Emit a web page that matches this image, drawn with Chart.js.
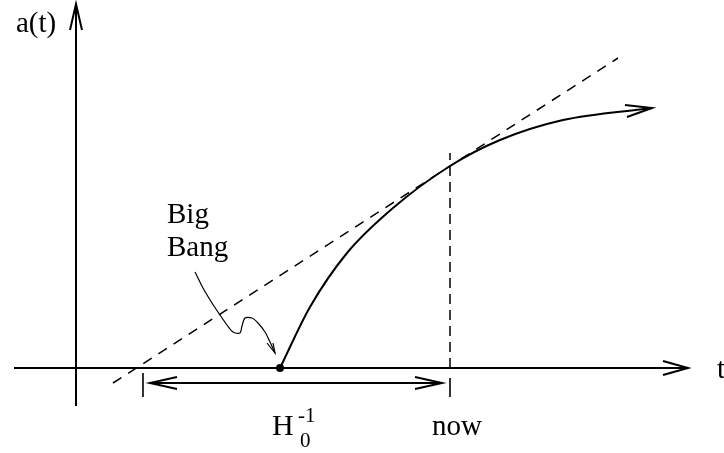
<!DOCTYPE html>
<html>
<head>
<meta charset="utf-8">
<script src="https://cdn.jsdelivr.net/npm/chart.js@4"></script>
<style>
  body { margin: 0; background: #fff; }
  #wrap { width: 724px; height: 453px; position: relative; }
</style>
</head>
<body>
<div id="wrap"><canvas id="myChart"></canvas></div>
<script>
// t = time, a = scale factor (diagram units, origin where the axes cross)
const axisT = [-62, 612];
const axisA = [364, -38];

const curveT = [204, 234, 271, 317, 374, 424, 487, 576];
const curveA = [0, 61, 115, 160, 202, 228, 248, 260];

const tangentT = [37, 542];
const tangentA = [-15, 310];

const bigBangT = 204;
const nowT = 374;
const nowTopA = 215;
const hubbleStartT = 67;
const hubbleA = -15;

const squigT = [119, 127, 136, 144, 151, 157, 164, 166, 169, 176, 182, 189, 194, 199];
const squigA = [96, 80, 65, 53, 43, 36, 35, 42, 50, 50, 45, 36, 26, 15];

const labels = ['a(t)', 't', 'Big', 'Bang', 'H', '0', '-1', 'now'];

const pts = (ts, as) => ts.map((t, i) => ({ x: t, y: as[i] }));

function seg(data, opts) {
    return Object.assign({
        data: data,
        showLine: true,
        borderColor: '#000',
        borderWidth: 2,
        pointRadius: 0,
        fill: false,
        tension: 0
    }, opts || {});
}

const datasets = [
    // axes
    seg([{ x: 0, y: axisA[1] }, { x: 0, y: axisA[0] }]),
    seg([{ x: -6, y: 338 }, { x: 0, y: axisA[0] }, { x: 6, y: 338 }]),
    seg([{ x: axisT[0], y: 0 }, { x: axisT[1], y: 0 }]),
    seg([{ x: axisT[1] - 25, y: 7 }, { x: axisT[1], y: 0 }, { x: axisT[1] - 25, y: -7 }]),
    // tangent line
    seg(pts(tangentT, tangentA), { borderWidth: 1.5, borderDash: [10, 8] }),
    // now marker
    seg([{ x: nowT, y: 0 }, { x: nowT, y: nowTopA }], { borderWidth: 1.5, borderDash: [10, 6] }),
    seg([{ x: nowT, y: -10 }, { x: nowT, y: -29 }], { borderWidth: 1.6 }),
    // 1/H0 span
    seg([{ x: hubbleStartT, y: -5 }, { x: hubbleStartT, y: -29 }], { borderWidth: 1.6 }),
    seg([{ x: hubbleStartT + 7, y: hubbleA }, { x: nowT - 8, y: hubbleA }]),
    seg([{ x: hubbleStartT + 34, y: hubbleA + 6 }, { x: hubbleStartT + 7, y: hubbleA }, { x: hubbleStartT + 34, y: hubbleA - 6 }]),
    seg([{ x: nowT - 35, y: hubbleA + 6 }, { x: nowT - 8, y: hubbleA }, { x: nowT - 35, y: hubbleA - 6 }]),
    // a(t) curve
    seg(pts(curveT, curveA), { cubicInterpolationMode: 'monotone' }),
    seg([{ x: 549, y: 263 }, { x: 576, y: 260 }, { x: 551, y: 251 }]),
    // "Big Bang" pointer
    seg(pts(squigT, squigA), { borderWidth: 1.2, tension: 0.3 }),
    seg([{ x: 191, y: 25 }, { x: 199, y: 15 }, { x: 197, y: 25 }], { borderWidth: 1.2 }),
    // big bang dot
    { data: [{ x: bigBangT, y: 0 }], pointRadius: 4, pointBackgroundColor: '#000', pointBorderWidth: 0, showLine: false }
];

const textPlugin = {
    id: 'texts',
    afterDatasetsDraw(chart) {
        const ctx = chart.ctx;
        const sx = chart.scales.x, sy = chart.scales.y;
        const put = (txt, t, a, size) => {
            ctx.font = size + 'px "Liberation Serif", "Times New Roman", serif';
            ctx.fillText(txt, sx.getPixelForValue(t), sy.getPixelForValue(a));
        };
        ctx.save();
        ctx.fillStyle = '#000';
        ctx.textAlign = 'left';
        ctx.textBaseline = 'alphabetic';
        put(labels[0], -60, 336, 29);
        put(labels[1], 641, -10, 29);
        put(labels[2], 91, 145, 29);
        put(labels[3], 91, 112, 29);
        put(labels[4], 196, -67, 30);
        put(labels[5], 224, -79, 21);
        put(labels[6], 222, -54, 21);
        put(labels[7], 356, -67, 29);
        ctx.restore();
    }
};

new Chart(document.getElementById('myChart').getContext('2d'), {
    type: 'scatter',
    data: { datasets: datasets },
    options: {
        responsive: true,
        maintainAspectRatio: false,
        animation: false,
        layout: { padding: 0, autoPadding: false },
        plugins: { legend: { display: false }, tooltip: { enabled: false } },
        scales: {
            x: { type: 'linear', display: false, min: -76, max: 648 },
            y: { type: 'linear', display: false, min: -85, max: 368 }
        }
    },
    plugins: [textPlugin]
});
</script>
</body>
</html>
